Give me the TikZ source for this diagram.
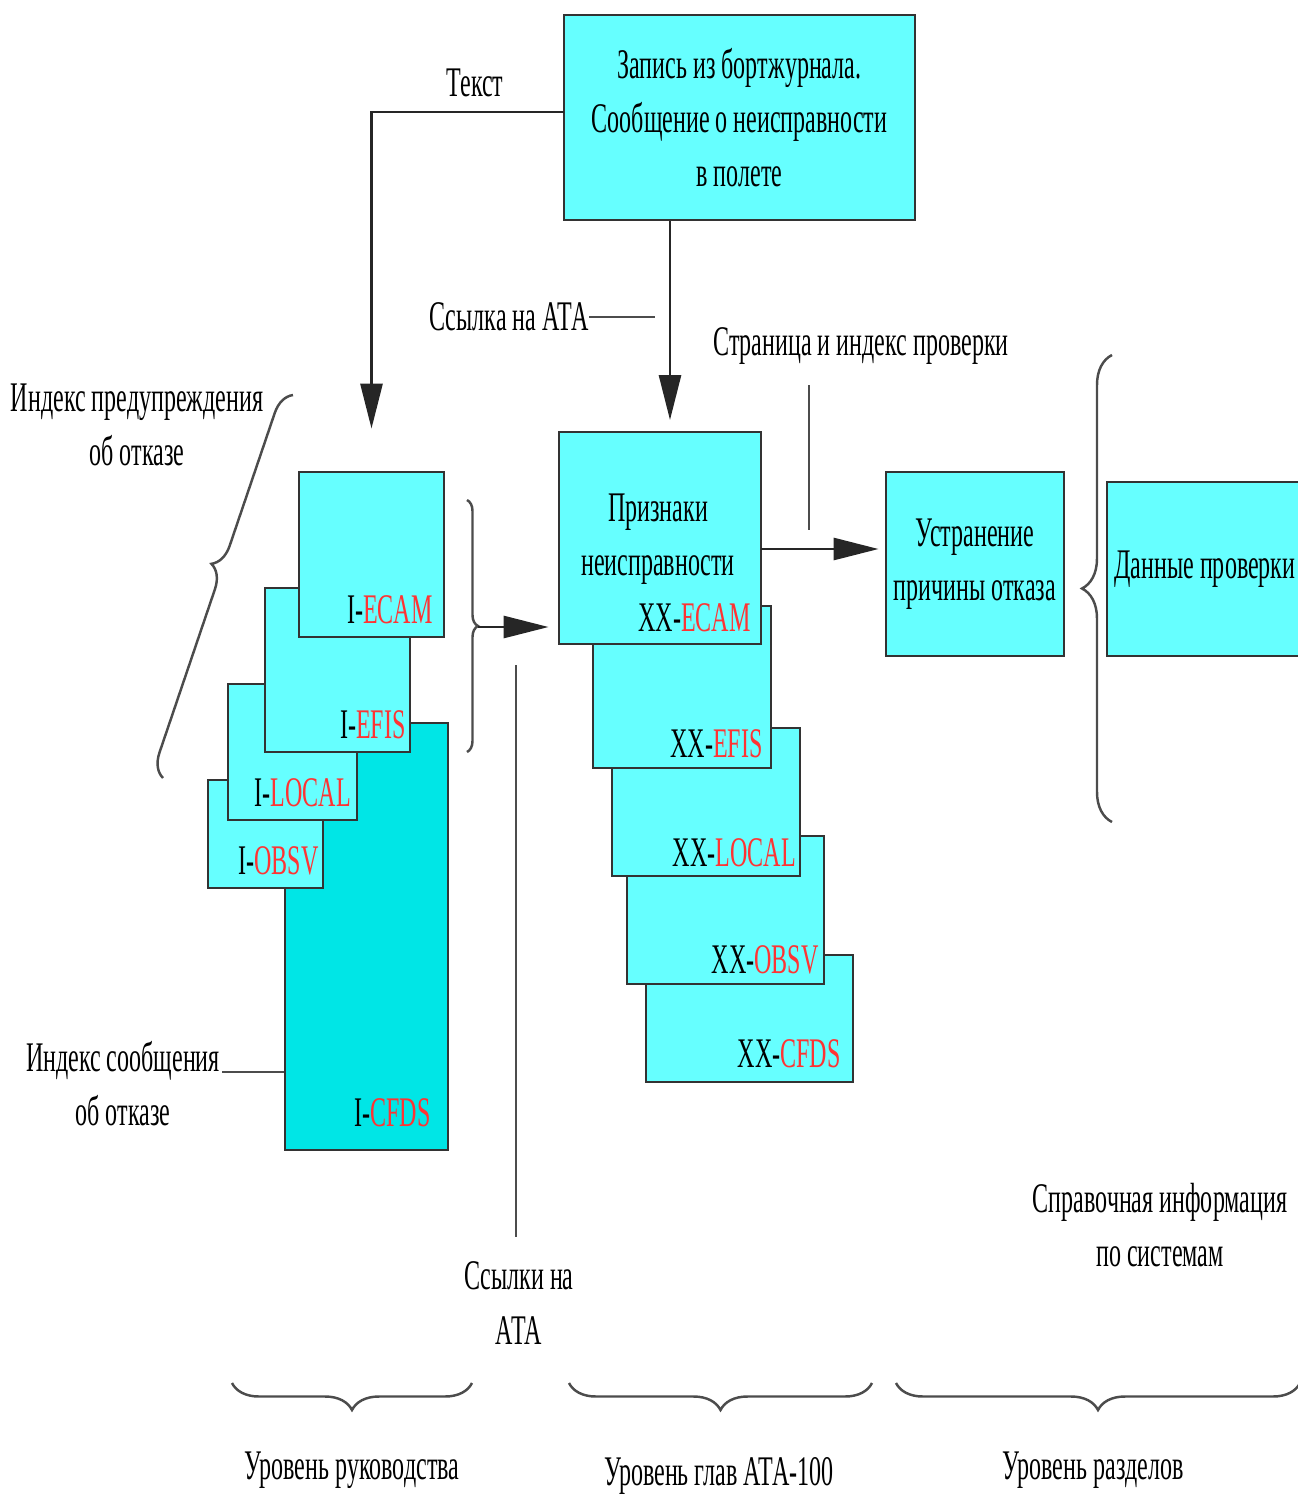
\documentclass[tikz,border=0pt]{standalone}
\usepackage{fontspec}
\setmainfont{Liberation Serif}[FakeStretch=0.57]
\usetikzlibrary{arrows.meta,calc,decorations.pathreplacing,positioning}
\definecolor{boxcyan}{HTML}{66FFFF}
\definecolor{deepcyan}{HTML}{00E6E6}
\definecolor{tagred}{HTML}{FF3333}
\tikzset{
  card/.style={draw=black!80, line width=0.8pt, fill=boxcyan, rectangle, inner sep=0pt, align=center},
  tag/.style={inner sep=0pt},
  lbl/.style={align=center},
  arr/.style={draw=black!85, line width=0.8pt, -{Triangle[length=4.5mm,width=2.2mm]}},
  lead/.style={draw=black!70, line width=0.7pt},
  curly/.style={draw=black!70, line width=0.7pt, decorate, decoration={brace, amplitude=#1}},
  curly/.default=2mm
}
\newcommand{\rd}[1]{\textcolor{tagred}{#1}}

\begin{document}
\begin{tikzpicture}[x=0.1mm, y=-0.1mm, font=\fontsize{12}{15.4}\selectfont]
        \useasboundingbox (0,0) rectangle (1298,1499);
        \clip (0,0) rectangle (1298,1499);

        % flight log entry
        \node[card, minimum width=35.1mm, minimum height=20.5mm] (rec) at (739.5,117.5) {Запись из бортжурнала.\\Сообщение о неисправности\\в полете};

        % manual level stack (back to front)
        \node[card, fill=deepcyan, minimum width=16.3mm, minimum height=42.7mm] (cfdsL) at (366.5,936.5) {};
        \node[card, minimum width=11.5mm, minimum height=10.8mm] (obsvL) at (265.5,834) {};
        \node[card, minimum width=12.9mm, minimum height=13.6mm] (localL) at (292.5,752) {};
        \node[card, minimum width=14.5mm, minimum height=16.4mm] (efisL) at (337.5,670) {};
        \node[card, minimum width=14.5mm, minimum height=16.5mm] (ecamL) at (371.5,554.5) {};
        \node[tag, anchor=base east] (cfdsLt) at ($(cfdsL.south east)+(-18,-25)$) {I-\rd{CFDS}};
        \node[tag, anchor=base east] (obsvLt) at ($(obsvL.south east)+(-5,-15)$) {I-\rd{OBSV}};
        \node[tag, anchor=base east] (localLt) at ($(localL.south east)+(-7,-15)$) {I-\rd{LOCAL}};
        \node[tag, anchor=base east] (efisLt) at ($(efisL.south east)+(-5,-15)$) {I-\rd{EFIS}};
        \node[tag, anchor=base east] (ecamLt) at ($(ecamL.south east)+(-12,-15)$) {I-\rd{ECAM}};

        % ATA-100 chapter stack (back to front)
        \node[card, minimum width=20.7mm, minimum height=12.7mm] (cfdsM) at (749.5,1018.5) {};
        \node[card, minimum width=19.7mm, minimum height=14.8mm] (obsvM) at (725.5,910) {};
        \node[card, minimum width=18.8mm, minimum height=14.8mm] (localM) at (706,802) {};
        \node[card, minimum width=17.8mm, minimum height=16.2mm] (efisM) at (682,687) {};
        \node[card, minimum width=20.2mm, minimum height=21.2mm] (sympt) at (660,538) {};
        \node[lbl] (symptT) at (658,539) {Признаки\\неисправности};
        \node[tag, anchor=base east] (cfdsMt) at ($(cfdsM.south east)+(-13,-16)$) {XX-\rd{CFDS}};
        \node[tag, anchor=base east] (obsvMt) at ($(obsvM.south east)+(-6,-12)$) {XX-\rd{OBSV}};
        \node[tag, anchor=base east] (localMt) at ($(localM.south east)+(-5,-11)$) {XX-\rd{LOCAL}};
        \node[tag, anchor=base east] (efisMt) at ($(efisM.south east)+(-9,-12)$) {XX-\rd{EFIS}};
        \node[tag, anchor=base east] (ecamMt) at ($(sympt.south east)+(-11,-14)$) {XX-\rd{ECAM}};

        % section level
        \node[card, minimum width=17.8mm, minimum height=18.4mm] (fix) at (975,564) {Устранение\\причины отказа};
        \node[card, minimum width=19.6mm, minimum height=17.4mm] (data) at (1205,569) {Данные проверки};

        % labels
        \node[lbl] (textL) at (475,83) {Текст};
        \node[lbl, inner sep=0pt] (ataL) at (509,317) {Ссылка на АТА};
        \node[lbl] (pageL) at (861,346) {Страница и индекс проверки};
        \node[lbl] (warnL) at (137,425) {Индекс предупреждения\\об отказе};
        \node[lbl, inner sep=0pt] (msgL) at (123,1084) {Индекс сообщения\\об отказе};
        \node[lbl] (ataR) at (519,1303) {Ссылки на\\АТА};
        \node[lbl] (infoL) at (1160,1225) {Справочная информация\\по системам};
        \node[lbl] (lvl1) at (352,1470) {Уровень руководства};
        \node[lbl] (lvl2) at (719,1476) {Уровень глав АТА-100};
        \node[lbl] (lvl3) at (1093,1470) {Уровень разделов};

        % connectors
        \coordinate (textOut) at (564,112);
        \coordinate (ataIn) at (670,432);
        \coordinate (ataEnd) at (655,317);
        \coordinate (pageTop) at (809,385);
        \coordinate (pageBot) at (809,530);
        \coordinate (symOut) at (761,549);
        \coordinate (msgLn) at (222,1072);
        \coordinate (refTop) at (516,665);
        \coordinate (refBot) at (516,1237);
        \draw[arr, shorten >=4.2mm] (textOut) -| (ecamL.north);
        \draw[arr, shorten >=1.2mm] (ataIn |- rec.south) -- (ataIn);
        \draw[lead] (ataL.east) -- (ataEnd);
        \draw[lead] (pageTop) -- (pageBot);
        \draw[arr, shorten >=0.6mm] (symOut) -- (symOut -| fix.west);
        \draw[lead] (msgLn) -- (msgLn -| cfdsL.west);
        \draw[lead] (refTop) -- (refBot);

        % braces
        \draw[curly=2.3mm, decoration={aspect=0.54}] (163,778) -- (293,395);
        \draw[curly=1.1mm] (467,500) -- (467,752);
        \coordinate (stackTip) at (478,627);
        \draw[arr, shorten >=0.9mm] (stackTip) -- (stackTip -| sympt.west);
        \draw[curly=3mm] (1112,822) -- (1112,355);
        \draw[curly=2.7mm] (472,1383) -- (232,1383);
        \draw[curly=2.7mm] (872,1383) -- (569,1383);
        \draw[curly=2.7mm] (1300,1383) -- (896,1383);
    \end{tikzpicture}
\end{document}
